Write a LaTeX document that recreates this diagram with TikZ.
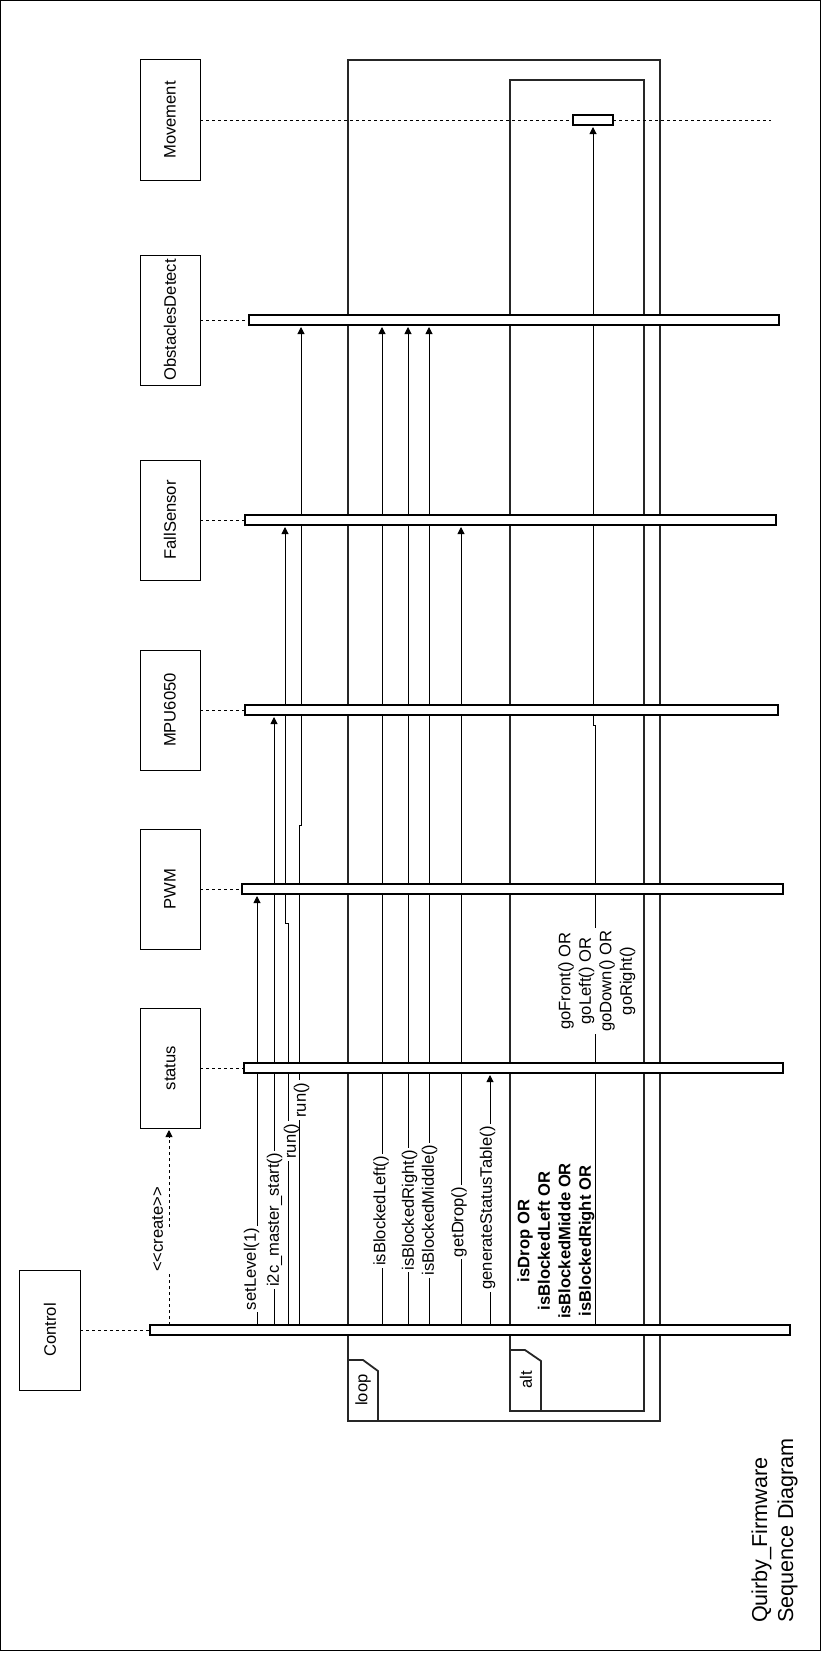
\documentclass[tikz,border=0pt]{standalone}
\usepackage{fontspec}
\setmainfont{Liberation Sans}
\usetikzlibrary{arrows.meta,calc}
\pgfdeclarelayer{bg}
\pgfsetlayers{bg,main}
\begin{document}
\begin{tikzpicture}[x=1bp,y=-1bp,
  every node/.style={font=\fontsize{16.6bp}{20.5bp}\selectfont, inner sep=0pt, outer sep=0pt},
  pbox/.style={draw, line width=1bp, minimum width=60bp, minimum height=120bp, fill=white},
  actbar/.style={draw, line width=1.2bp, fill=white, minimum height=10bp},
  lifeline/.style={dash pattern=on 3bp off 3bp, line width=0.9bp},
  msg/.style={line width=1bp, -{Triangle[length=7bp,width=7bp]}, shorten >=2bp},
  plainmsg/.style={line width=1bp},
  lbl/.style={fill=white, inner xsep=0.5bp, inner ysep=2bp},
  umlframe/.style={line width=1.8bp, draw=black!85},
]
\useasboundingbox (0,0) rectangle (822,1661);
\draw[line width=1bp] (0.5,0.5) rectangle (820,1650);

% participants
\node[pbox] (mov) at (170,120) {\rotatebox{90}{Movement}};
\node[pbox, minimum height=130bp] (obs) at (170,320) {\rotatebox{90}{ObstaclesDetect}};
\node[pbox] (fall) at (170,520) {\rotatebox{90}{FallSensor}};
\node[pbox] (mpu) at (170,710) {\rotatebox{90}{MPU6050}};
\node[pbox] (pwm) at (170,889) {\rotatebox{90}{PWM}};
\node[pbox] (stat) at (170,1068) {\rotatebox{90}{status}};
\node[pbox] (ctrl) at (50,1330) {\rotatebox{90}{Control}};

% activation bars
\node[actbar, minimum width=40bp] (movbar) at (593,120) {};
\node[actbar, minimum width=530bp] (obsbar) at (514,320) {};
\node[actbar, minimum width=531bp] (fallbar) at (510.5,520) {};
\node[actbar, minimum width=533bp] (mpubar) at (511.5,710) {};
\node[actbar, minimum width=541bp] (pwmbar) at (512.5,889) {};
\node[actbar, minimum width=539bp] (statbar) at (513.5,1068) {};
\node[actbar, minimum width=640bp] (ctrlbar) at (470,1330) {};

% helper coordinates
\coordinate (movend) at (771,120);
\coordinate (xset) at (257,0);
\coordinate (xi2c) at (274,0);
\coordinate (xrunA) at (288,0);
\coordinate (xrunAb) at (285,0);
\coordinate (jA1) at (288,923);
\coordinate (jA2) at (285,923);
\coordinate (xrunB) at (299,0);
\coordinate (xrunBb) at (301,0);
\coordinate (jB1) at (299,825);
\coordinate (jB2) at (301,825);
\coordinate (xbl) at (382,0);
\coordinate (xbr) at (408,0);
\coordinate (xbm) at (429,0);
\coordinate (xgd) at (461,0);
\coordinate (xgs) at (490,0);
\coordinate (xalt) at (595,0);
\coordinate (xaltb) at (593,0);
\coordinate (jC1) at (595,725);
\coordinate (jC2) at (593,725);
\coordinate (xcr) at (169,0);
\coordinate (crgapA) at (169,1273);
\coordinate (crgapB) at (169,1227);

\begin{pgfonlayer}{bg}
  % combined fragments
  \draw[umlframe] (348,60) rectangle (660,1421);
  \draw[umlframe] (348,1360) -- (363,1360) -- (378,1371) -- (378,1421);
  \node at (363,1390) {\rotatebox{90}{loop}};
  \draw[umlframe] (510,80) rectangle (644,1411);
  \draw[umlframe] (510,1350) -- (525,1350) -- (541,1361) -- (541,1411);
  \node at (526,1380) {\rotatebox{90}{alt}};

  % lifelines
  \draw[lifeline] (mov.east) -- (movbar.west);
  \draw[lifeline] (movbar.east) -- (movend);
  \draw[lifeline] (obs.east) -- (obsbar.west);
  \draw[lifeline] (fall.east) -- (fallbar.west);
  \draw[lifeline] (mpu.east) -- (mpubar.west);
  \draw[lifeline] (pwm.east) -- (pwmbar.west);
  \draw[lifeline] (stat.east) -- (statbar.west);
  \draw[lifeline] (ctrl.east) -- (ctrlbar.west);

  % create
  \draw[lifeline] (ctrlbar.north -| xcr) -- (crgapA);
  \draw[lifeline, -{Triangle[length=7bp,width=7bp]}, shorten >=2bp] (crgapB) -- (stat.south -| xcr);
  \node at (157.5,1229.5) {\rotatebox{90}{<\kern0pt<create>\kern0pt>}};

  % messages
  \draw[msg] (ctrlbar.north -| xset) -- (pwmbar.south -| xset);
  \node[lbl] at (251.5,1269) {\rotatebox{90}{setLevel(1)}};
  \draw[msg] (ctrlbar.north -| xi2c) -- (mpubar.south -| xi2c);
  \node[lbl] at (274.5,1220) {\rotatebox{90}{i2c\_master\_start()}};
  \draw[msg] (ctrlbar.north -| xrunA) -- (jA1) -- (jA2) -- (fallbar.south -| xrunAb);
  \node[lbl] at (291.5,1141) {\rotatebox{90}{run()}};
  \draw[msg] (ctrlbar.north -| xrunB) -- (jB1) -- (jB2) -- (obsbar.south -| xrunBb);
  \node[lbl] at (301.5,1100) {\rotatebox{90}{run()}};
  \draw[msg] (ctrlbar.north -| xbl) -- (obsbar.south -| xbl);
  \node[lbl] at (381,1211) {\rotatebox{90}{isBlockedLeft()}};
  \draw[msg] (ctrlbar.north -| xbr) -- (obsbar.south -| xbr);
  \node[lbl] at (409.5,1210) {\rotatebox{90}{isBlockedRight()}};
  \draw[msg] (ctrlbar.north -| xbm) -- (obsbar.south -| xbm);
  \node[lbl] at (429.5,1210) {\rotatebox{90}{isBlockedMiddle()}};
  \draw[msg] (ctrlbar.north -| xgd) -- (fallbar.south -| xgd);
  \node[lbl] at (459,1222) {\rotatebox{90}{getDrop()}};
  \draw[msg] (ctrlbar.north -| xgs) -- (statbar.south -| xgs);
  \node[lbl] at (487.5,1208) {\rotatebox{90}{generateStatusTable()}};
  \draw[msg] (ctrlbar.north -| xalt) -- (jC1) -- (jC2) -- (movbar.south -| xaltb);
  \node[lbl] at (597,981) {\rotatebox{90}{\begin{tabular}{@{}c@{}}goFront() OR\\goLeft() OR\\goDown() OR\\goRight()\end{tabular}}};
  \node at (556,1241) {\rotatebox{90}{\bfseries\begin{tabular}{@{}c@{}}isDrop OR\\isBlockedLeft OR\\isBlockedMidde OR\\isBlockedRight OR\end{tabular}}};
\end{pgfonlayer}

% title
\node at (775,1530.5) {\rotatebox{90}{\fontsize{21.6bp}{26bp}\selectfont\begin{tabular}{@{}l@{}}Quirby\_Firmware\\Sequence Diagram\end{tabular}}};
\end{tikzpicture}
\end{document}
